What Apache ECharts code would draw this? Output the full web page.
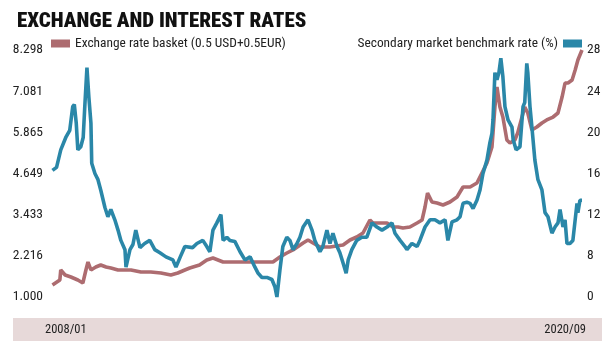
<!DOCTYPE html>
<html>
<head>
<meta charset="utf-8">
<script src="https://cdn.jsdelivr.net/npm/echarts@6/dist/echarts.min.js"></script>
<style>
html,body{margin:0;padding:0;background:#fff;}
#chart{width:614px;height:349px;}
</style>
</head>
<body>
<div id="chart"></div>
<script>
const titleText = 'EXCHANGE AND INTEREST RATES';
const basketName = 'Exchange rate basket (0.5 USD+0.5EUR)';
const rateName = 'Secondary market benchmark rate (%)';
const startLabel = '2008/01';
const endLabel = '2020/09';
const leftTicks = [1.000, 2.216, 3.433, 4.649, 5.865, 7.081, 8.298];
const rightTicks = [4, 8, 12, 16, 20, 24, 28];
const rightTickLabels = ['0', '8', '12', '16', '20', '24', '28'];

const basketDates = ['2008-01-05','2008-03-10','2008-03-18','2008-04-25','2008-06-15','2008-08-15','2008-09-28','2008-10-25','2008-11-12','2008-12-08','2009-01-20','2009-03-04','2009-04-20','2009-06-01','2009-08-03','2009-10-03','2009-11-25','2010-02-20','2010-05-18','2010-08-15','2010-11-10','2011-01-10','2011-03-13','2011-04-25','2011-07-20','2011-09-22','2011-11-15','2012-02-12','2012-05-10','2012-09-10','2013-01-01','2013-04-25','2013-06-25','2013-08-25','2013-10-18','2014-01-15','2014-02-27','2014-04-12','2014-06-12','2014-09-08','2015-01-01','2015-03-03','2015-05-01','2015-06-25','2015-08-25','2015-09-20','2015-11-20','2016-01-22','2016-03-15','2016-04-28','2016-06-10','2016-08-10','2016-10-12','2016-11-25','2016-12-21','2017-01-12','2017-02-20','2017-04-05','2017-05-28','2017-07-28','2017-09-28','2017-11-20','2018-01-21','2018-03-22','2018-05-05','2018-06-18','2018-08-01','2018-08-27','2018-09-14','2018-10-10','2018-11-05','2018-12-10','2019-01-06','2019-02-18','2019-03-15','2019-04-22','2019-05-16','2019-06-12','2019-07-18','2019-08-30','2019-10-14','2019-11-25','2020-01-20','2020-03-03','2020-04-08','2020-05-04','2020-05-30','2020-07-05','2020-08-01','2020-08-25','2020-09-30'];
const basketValues = [1.355,1.502,1.798,1.650,1.591,1.502,1.414,1.798,2.034,1.798,1.886,1.946,1.886,1.857,1.798,1.798,1.798,1.739,1.739,1.709,1.650,1.709,1.798,1.857,1.946,2.093,2.152,2.034,2.034,2.034,2.034,2.034,2.182,2.300,2.389,2.596,2.684,2.596,2.477,2.477,2.536,2.684,2.773,2.891,3.275,3.186,3.186,3.186,3.068,3.068,3.039,3.068,3.186,3.275,3.659,4.073,3.807,3.777,3.718,3.807,3.955,4.250,4.250,4.368,4.664,4.959,5.432,6.614,7.205,6.614,6.318,5.639,5.550,5.639,5.846,6.318,6.614,6.437,5.934,6.023,6.141,6.230,6.318,6.437,6.909,7.323,7.323,7.412,7.707,8.003,8.298];

const rateDates = ['2008-01-05','2008-02-10','2008-03-18','2008-05-01','2008-06-05','2008-07-01','2008-07-15','2008-08-01','2008-08-15','2008-09-10','2008-10-01','2008-10-15','2008-11-03','2008-11-20','2008-12-08','2008-12-15','2009-01-12','2009-02-08','2009-03-04','2009-04-10','2009-05-06','2009-06-01','2009-07-06','2009-08-03','2009-08-28','2009-10-03','2009-10-12','2009-11-16','2009-12-12','2010-01-06','2010-02-12','2010-03-25','2010-05-09','2010-06-22','2010-08-06','2010-09-28','2010-11-28','2010-12-25','2011-02-01','2011-03-13','2011-05-20','2011-06-27','2011-08-18','2011-09-22','2011-10-19','2011-11-15','2011-12-19','2012-01-24','2012-02-12','2012-03-16','2012-04-12','2012-05-25','2012-07-10','2012-08-22','2012-10-06','2012-11-18','2012-12-16','2013-01-18','2013-03-03','2013-04-16','2013-05-12','2013-05-30','2013-06-25','2013-07-21','2013-08-25','2013-09-21','2013-10-18','2013-11-22','2013-12-18','2014-01-15','2014-02-27','2014-04-03','2014-04-28','2014-06-12','2014-07-07','2014-08-12','2014-09-08','2014-10-04','2014-11-09','2014-12-04','2015-01-01','2015-01-28','2015-02-15','2015-03-19','2015-05-01','2015-06-15','2015-07-28','2015-09-12','2015-10-25','2015-12-09','2016-01-22','2016-03-06','2016-04-01','2016-05-16','2016-06-28','2016-07-15','2016-08-28','2016-10-12','2016-11-06','2016-12-21','2017-02-03','2017-03-18','2017-05-01','2017-06-15','2017-07-10','2017-08-15','2017-09-28','2017-10-25','2017-11-20','2017-12-24','2018-01-21','2018-02-16','2018-03-22','2018-04-18','2018-05-14','2018-06-18','2018-07-14','2018-08-01','2018-08-10','2018-08-27','2018-09-14','2018-10-01','2018-10-18','2018-11-05','2018-11-23','2018-12-20','2019-01-24','2019-02-03','2019-03-01','2019-04-04','2019-04-22','2019-05-01','2019-05-16','2019-06-03','2019-06-12','2019-07-01','2019-07-18','2019-08-13','2019-09-09','2019-10-14','2019-11-10','2019-12-06','2020-01-10','2020-02-06','2020-03-03','2020-03-21','2020-04-16','2020-05-04','2020-05-21','2020-06-16','2020-07-12','2020-08-17','2020-08-25','2020-09-12','2020-09-30'];
const rateValues = [16.3,16.6,18.3,19.5,20.2,22.5,22.7,20.9,18.3,18.6,19.5,22.5,26.3,23.4,20.9,17.0,16.0,15.4,14.4,12.7,11.8,12.5,11.5,10.5,9.5,8.6,6.9,8.6,9.1,10.5,8.8,9.2,9.5,8.6,8.3,7.9,7.6,6.9,7.9,8.9,8.8,9.2,9.5,8.9,8.4,10.5,11.2,12.0,9.5,9.8,9.5,9.4,8.4,7.6,7.9,6.9,6.3,5.9,5.9,5.7,5.0,4.0,6.6,8.9,9.8,9.5,8.6,9.2,9.8,10.8,11.5,10.5,9.5,8.4,8.9,10.5,9.2,10.2,8.9,8.3,7.3,6.3,7.6,8.6,9.5,9.8,9.8,11.2,10.8,10.5,10.8,11.2,10.2,9.5,8.9,8.6,9.2,8.9,9.5,10.8,11.5,11.5,11.2,11.5,9.5,11.3,11.5,11.8,13.1,13.2,13.1,12.6,13.4,14.4,16.0,17.3,19.0,19.9,21.2,25.8,25.1,25.8,27.2,25.4,22.5,21.2,20.5,19.3,18.3,18.6,21.2,22.5,22.9,26.7,25.8,22.5,20.5,17.3,15.4,14.4,12.2,11.8,10.2,10.8,11.2,12.5,10.8,11.5,9.2,9.2,9.5,13.1,12.2,13.4,13.4];

const FONT = '"Roboto Condensed", sans-serif';
const RED = '#ad6c70';
const BLUE = '#2a87a8';

const chart = echarts.init(document.getElementById('chart'), null, {renderer: 'canvas'});
chart.setOption({
  backgroundColor: '#ffffff',
  animation: false,
  title: {
    text: titleText,
    left: 12, top: 6,
    textStyle: {fontFamily: FONT, fontWeight: 900, fontSize: 21, color: '#111'}
  },
  legend: [
    {
      data: [basketName], left: 46, top: 32,
      icon: 'rect', itemWidth: 19, itemHeight: 8, itemGap: 5,
      textStyle: {fontFamily: FONT, fontSize: 13.4, color: '#222'}
    },
    {
      data: [rateName], right: 27, top: 32, align: 'right',
      icon: 'rect', itemWidth: 19, itemHeight: 8,
      textStyle: {fontFamily: FONT, fontSize: 13.4, color: '#222'}
    }
  ],
  grid: {left: 52, right: 32, top: 50, bottom: 52},
  xAxis: {
    type: 'time',
    min: '2008-01-01', max: '2020-09-30',
    axisLine: {show: false}, axisTick: {show: false},
    axisLabel: {show: false}, splitLine: {show: false}
  },
  yAxis: [
    {
      type: 'value', min: 1, max: 8.298,
      axisLine: {show: false}, axisTick: {show: false}, splitLine: {show: false},
      axisLabel: {
        customValues: leftTicks, margin: 9,
        fontFamily: FONT, fontSize: 13.5, color: '#222',
        formatter: v => v.toFixed(3)
      }
    },
    {
      type: 'value', min: 4, max: 28,
      axisLine: {show: false}, axisTick: {show: false}, splitLine: {show: false},
      axisLabel: {
        customValues: rightTicks, margin: 5,
        fontFamily: FONT, fontSize: 13.5, color: '#222',
        formatter: v => rightTickLabels[rightTicks.indexOf(Math.round(v))]
      }
    }
  ],
  graphic: [
    {type: 'rect', shape: {x: 13, y: 318, width: 589, height: 23}, style: {fill: '#e7d9d9'}, z: -1},
    {type: 'text', x: 45, y: 330, style: {text: startLabel, font: '12.5px "Roboto Condensed"', fill: '#222', textVerticalAlign: 'middle', textAlign: 'left'}},
    {type: 'text', x: 586, y: 330, style: {text: endLabel, font: '12.5px "Roboto Condensed"', fill: '#222', textVerticalAlign: 'middle', textAlign: 'right'}}
  ],
  series: [
    {
      name: basketName, type: 'line', yAxisIndex: 0, symbol: 'none',
      color: RED, lineStyle: {width: 3.6, color: RED},
      data: basketDates.map((d, i) => [d, basketValues[i]])
    },
    {
      name: rateName, type: 'line', yAxisIndex: 1, symbol: 'none',
      color: BLUE, lineStyle: {width: 3.6, color: BLUE},
      data: rateDates.map((d, i) => [d, rateValues[i]])
    }
  ]
});
</script>
</body>
</html>
